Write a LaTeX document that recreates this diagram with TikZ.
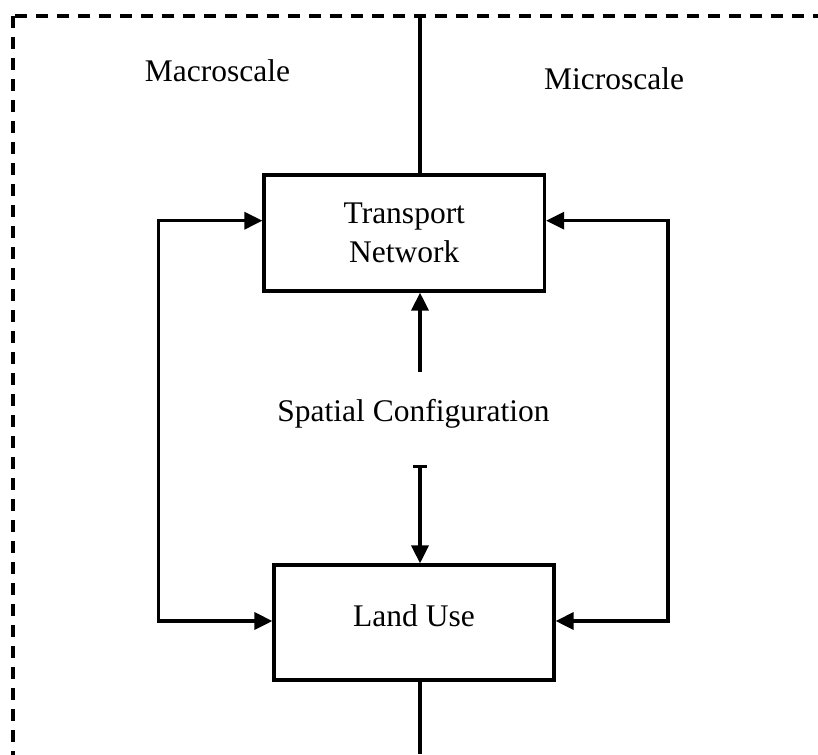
\documentclass[tikz,border=0pt]{standalone}
\usepackage{fontspec}
\setmainfont{Liberation Serif}
\usetikzlibrary{arrows.meta,calc}
\tikzset{
  ln/.style={line width=3.2pt},
  boxnode/.style={draw,ln,inner sep=0pt,align=center,font=\fontsize{31.5}{39}\selectfont},
  lbl/.style={inner sep=0pt,anchor=base,font=\fontsize{31.5}{39}\selectfont},
  tip/.style={-{Triangle[length=18pt,width=17pt]}},
  dtip/.style={{Triangle[length=18pt,width=17pt]}-{Triangle[length=18pt,width=17pt]}},
  bartip/.style={{Bar[width=14pt,line width=3.2pt]}-{Triangle[length=18pt,width=17pt]}},
  border/.style={line width=3.2pt,dash pattern=on 12pt off 9pt}
}
\begin{document}
\begin{tikzpicture}[x=1pt,y=-1pt]
\useasboundingbox (0,0) rectangle (818,754);
\clip (0,0) rectangle (818,754);
\fill[white] (0,0) rectangle (818,754);
\draw[border] (13,16) rectangle (900,900);

\node[boxnode,minimum width=280.5pt,minimum height=116pt] (T) at (404.3,233) {Transport\\Network};
\node[boxnode,minimum width=280pt,minimum height=115pt,text depth=14pt] (L) at (414,622.5) {Land Use};

\node[lbl] (macro) at (217.5,81.7) {Macroscale};
\node[lbl] (micro) at (614,90) {Microscale};
\node[lbl] (spatial) at (413.5,421) {Spatial Configuration};

\coordinate (topend) at (420,16);
\coordinate (botend) at (420,754);
\coordinate (upstart) at (420,372);
\coordinate (dnstart) at (420,465);
\coordinate (tl) at (158.6,220.7);
\coordinate (bl) at (158.6,621);
\coordinate (tr) at (668,220.7);
\coordinate (br) at (668,621);

\draw[ln] (topend) -- (topend |- T.north);
\draw[ln] (L.south -| botend) -- (botend);
\draw[ln,tip] (upstart) -- (upstart |- T.south);
\draw[ln,bartip] (dnstart) -- (dnstart |- L.north);
\draw[ln,dtip] (T.west |- tl) -- (tl) -- (bl) -- (L.west |- bl);
\draw[ln,dtip] (T.east |- tr) -- (tr) -- (br) -- (L.east |- br);
\end{tikzpicture}
\end{document}
